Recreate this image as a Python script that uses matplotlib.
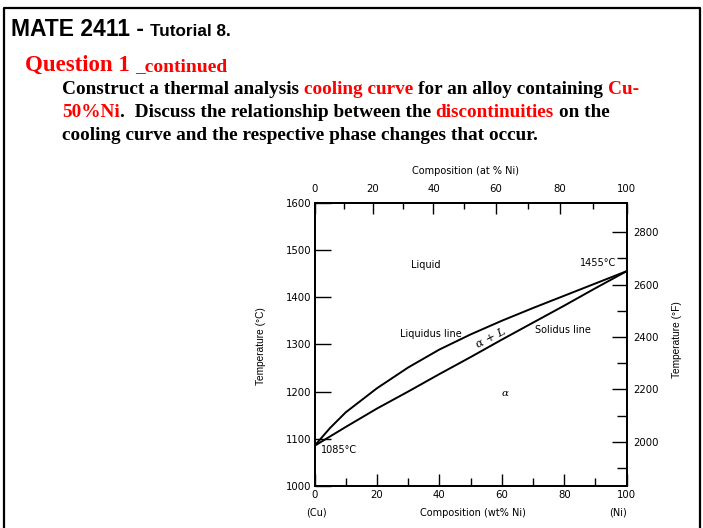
import matplotlib
matplotlib.use("Agg")
import matplotlib.pyplot as plt
import numpy as np
from matplotlib.ticker import FixedLocator

# ---- data: Cu-Ni isomorphous phase diagram (temperature in deg C vs wt% Ni)
wt_ni = [0, 5, 10, 20, 30, 40, 50, 60, 70, 80, 90, 100]
liquidus_c = [1085, 1123, 1156, 1207, 1251, 1289, 1321, 1350, 1377, 1403, 1429, 1455]
solidus_c = [1085, 1105, 1125, 1164, 1200, 1237, 1273, 1310, 1346, 1382, 1419, 1455]

temp_c_ticks = [1000, 1100, 1200, 1300, 1400, 1500, 1600]
temp_f_major = [2000, 2200, 2400, 2600, 2800]
temp_f_minor = [1900, 2100, 2300, 2500, 2700]
wt_major = [0, 20, 40, 60, 80, 100]
wt_minor = [10, 30, 50, 70, 90]
at_major = [0, 20, 40, 60, 80, 100]
at_minor = [10, 30, 50, 70, 90]

M_CU, M_NI = 63.55, 58.69

W, H = 703, 528
fig = plt.figure(figsize=(W / 100, H / 100), dpi=100)
renderer = fig.canvas.get_renderer()

RED = "#ff0000"
SERIF = ["Liberation Serif", "DejaVu Serif"]
SANS = ["Liberation Sans", "DejaVu Sans"]


def fx(px):
    return px / W


def fy(py):
    return 1 - py / H


def text_width(s, **props):
    t = fig.text(0, 0, s, **props)
    w = t.get_window_extent(renderer).width
    t.remove()
    return w


def draw_runs(x_px, base_px, runs, **props):
    """Write coloured pieces one after another along one baseline."""
    space = text_width("x x", **props) - text_width("xx", **props)
    x = x_px
    for s, color in runs:
        lead = len(s) - len(s.lstrip(" "))
        trail = len(s) - len(s.rstrip(" "))
        core = s.strip(" ")
        x += lead * space
        if core:
            t = fig.text(fx(x), fy(base_px), core, color=color,
                         ha="left", va="baseline", **props)
            x = t.get_window_extent(renderer).x1
        x += trail * space
    return x


# ---- slide frame
frame = plt.Line2D([fx(4), fx(4), fx(700), fx(700)],
                   [fy(540), fy(8), fy(8), fy(540)],
                   transform=fig.transFigure, color="black", lw=1.6)
fig.add_artist(frame)

# ---- heading and question text
x = draw_runs(11, 36, [("MATE 2411 - ", "black")],
              family=SANS, weight="bold", size=16.5)
draw_runs(x, 36, [("Tutorial 8.", "black")], family=SANS, weight="bold", size=12.3)

x = draw_runs(25, 71, [("Question 1 ", RED)], family=SERIF, weight="bold", size=16.5)
draw_runs(x, 71, [("_continued", RED)], family=SERIF, weight="bold", size=14)

body = dict(family=SERIF, weight="bold", size=13.9)
draw_runs(62, 94, [("Construct a thermal analysis ", "black"),
                   ("cooling curve", RED),
                   (" for an alloy containing ", "black"),
                   ("Cu-", RED)], **body)
draw_runs(62, 117, [("50%Ni", RED),
                    (".  Discuss the relationship between the ", "black"),
                    ("discontinuities", RED),
                    (" on the", "black")], **body)
draw_runs(62, 140, [("cooling curve and the respective phase changes that occur.", "black")],
          **body)

# ---- phase diagram axes
ax = fig.add_axes([fx(314.5), fy(486), (626.7 - 314.5) / W, (486 - 202.7) / H])
ax.plot(wt_ni, liquidus_c, color="black", lw=1.4, solid_capstyle="round",
        solid_joinstyle="round")
ax.plot(wt_ni, solidus_c, color="black", lw=1.4, solid_capstyle="round",
        solid_joinstyle="round")
ax.set_xlim(0, 100)
ax.set_ylim(1000, 1600)

tick_font = 7.3
ax.set_yticks(temp_c_ticks)
ax.set_xticks(wt_major)
ax.xaxis.set_minor_locator(FixedLocator(wt_minor))
ax.tick_params(axis="y", direction="in", length=11.5, width=1.0, pad=2,
               labelsize=tick_font)
ax.tick_params(axis="x", which="major", direction="in", length=8.5, width=1.0,
               pad=3, labelsize=tick_font)
ax.tick_params(axis="x", which="minor", direction="in", length=6, width=1.0)
for sp in ax.spines.values():
    sp.set_linewidth(1.3)

# right axis in deg F
axf = ax.twinx()
axf.set_ylim(1000 * 9 / 5 + 32, 1600 * 9 / 5 + 32)
axf.set_yticks(temp_f_major)
axf.yaxis.set_minor_locator(FixedLocator(temp_f_minor))
axf.tick_params(axis="y", which="major", direction="in", length=11, width=1.0,
                pad=5, labelsize=tick_font)
axf.tick_params(axis="y", which="minor", direction="in", length=7.5, width=1.0)
for sp in axf.spines.values():
    sp.set_linewidth(1.3)


# top axis in atomic percent Ni
def wt_to_at(w):
    w = np.asarray(w, dtype=float)
    with np.errstate(divide="ignore", invalid="ignore"):
        n_ni = w / M_NI
        n_cu = (100 - w) / M_CU
        return 100 * n_ni / (n_ni + n_cu)


def at_to_wt(a):
    a = np.asarray(a, dtype=float)
    with np.errstate(divide="ignore", invalid="ignore"):
        m_ni = a * M_NI
        m_cu = (100 - a) * M_CU
        return 100 * m_ni / (m_ni + m_cu)


sec = ax.secondary_xaxis("top", functions=(wt_to_at, at_to_wt))
sec.set_xticks(at_major)
sec.xaxis.set_minor_locator(FixedLocator(at_minor))
sec.tick_params(axis="x", which="major", direction="in", length=8, width=1.0,
                pad=6, labelsize=tick_font)
sec.tick_params(axis="x", which="minor", direction="in", length=4.5, width=1.0)
sec.spines["top"].set_linewidth(1.3)

# ---- region and line labels
lab = dict(family="DejaVu Sans", size=7, color="black")
ax.text(35.7, 1468, "Liquid", ha="center", va="center", **lab)
ax.text(96.7, 1472, "1455°C", ha="right", va="center", **lab)
ax.text(37.4, 1322, "Liquidus line", ha="center", va="center", **lab)
ax.text(79.7, 1331, "Solidus line", ha="center", va="center", **lab)
ax.text(56.5, 1313, "α + L", ha="center", va="center", rotation=27,
        family="DejaVu Serif", style="italic", size=8.2)
ax.text(60.9, 1196, "α", ha="center", va="center",
        family="DejaVu Serif", style="italic", size=7.5)
ax.text(2.0, 1077, "1085°C", ha="left", va="center", **lab)

# ---- axis titles
fig.text(fx(465), fy(171.5), "Composition (at % Ni)", ha="center", va="center", **lab)
fig.text(fx(472.5), fy(512.5), "Composition (wt% Ni)", ha="center", va="center", **lab)
fig.text(fx(316.3), fy(512.5), "(Cu)", ha="center", va="center", **lab)
fig.text(fx(618), fy(512.5), "(Ni)", ha="center", va="center", **lab)

narrow = ["Liberation Sans Narrow", "Liberation Sans"]
fig.text(fx(261), fy(345.7), "Temperature (°C)", rotation=90, ha="center",
         va="center", family=narrow, size=7.3)
fig.text(fx(677.5), fy(340), "Temperature (°F)", rotation=90, ha="center",
         va="center", family=narrow, size=7.3)

fig.savefig("out.png", dpi=100)
